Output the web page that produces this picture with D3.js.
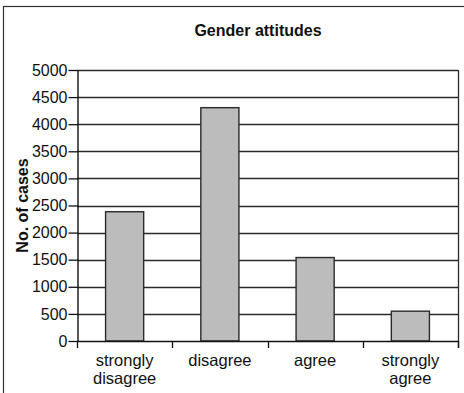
<!DOCTYPE html>
<html>
<head>
<meta charset="utf-8">
<script src="https://cdn.jsdelivr.net/npm/d3@7/dist/d3.min.js"></script>
<style>
  html, body { margin: 0; padding: 0; background: #fff; }
  svg { display: block; font-family: "Liberation Sans", Arial, Helvetica, sans-serif; }
</style>
</head>
<body>
<svg id="chart" width="464" height="393"></svg>
<script>
const categories = [["strongly", "disagree"], ["disagree"], ["agree"], ["strongly", "agree"]];
const values = [2385, 4305, 1540, 550];
const yTicks = [0, 500, 1000, 1500, 2000, 2500, 3000, 3500, 4000, 4500, 5000];
const title = "Gender attitudes";
const yLabel = "No. of cases";

const svg = d3.select("#chart");
const pLeft = 77, pRight = 458, pTop = 70, pBottom = 341;

// outer frame (extends past right/bottom edges)
svg.append("rect").attr("x", 3.5).attr("y", 6.5).attr("width", 480).attr("height", 420)
  .attr("fill", "none").attr("stroke", "#333").attr("stroke-width", 1.2);

const x = d3.scaleBand().domain(d3.range(categories.length)).range([pLeft, pRight]).paddingInner(0).paddingOuter(0);
const y = d3.scaleLinear().domain([0, 5000]).range([pBottom, pTop]);

// gridlines
svg.append("g").selectAll("line").data(yTicks.filter(d => d > 0)).join("line")
  .attr("x1", pLeft).attr("x2", pRight)
  .attr("y1", d => Math.round(y(d)) + 0.5).attr("y2", d => Math.round(y(d)) + 0.5)
  .attr("stroke", "#2a2a2a").attr("stroke-width", 1.3);

// right border of plot
svg.append("line").attr("x1", pRight + 0.5).attr("x2", pRight + 0.5).attr("y1", pTop).attr("y2", pBottom + 7)
  .attr("stroke", "#2a2a2a").attr("stroke-width", 1.3);

// bars
const bw = x.bandwidth() / 2.5;
svg.append("g").selectAll("rect").data(values).join("rect")
  .attr("x", (d, i) => x(i) + (x.bandwidth() - bw) / 2)
  .attr("y", d => y(d))
  .attr("width", bw)
  .attr("height", d => pBottom - y(d))
  .attr("fill", "#bcbcbc").attr("stroke", "#2a2a2a").attr("stroke-width", 1.4);

// y axis
const yAxis = d3.axisLeft(y).tickValues(yTicks).tickFormat(d3.format("d")).tickSize(9).tickPadding(1).tickSizeOuter(0);
const gy = svg.append("g").attr("transform", `translate(${pLeft + 0.5},0)`).call(yAxis);
gy.select(".domain").attr("stroke", "#111").attr("stroke-width", 1.4);
gy.selectAll(".tick line").attr("stroke", "#111").attr("stroke-width", 1.3);
gy.selectAll(".tick text").attr("font-size", 16).attr("fill", "#111").attr("font-family", "Liberation Sans, Arial, sans-serif");

// x axis
const xEdges = d3.range(categories.length + 1).map(i => pLeft + i * x.bandwidth());
svg.append("line").attr("x1", pLeft).attr("x2", pRight).attr("y1", pBottom + 0.5).attr("y2", pBottom + 0.5)
  .attr("stroke", "#111").attr("stroke-width", 1.4);
svg.append("g").selectAll("line").data(xEdges).join("line")
  .attr("x1", d => Math.round(d) + 0.5).attr("x2", d => Math.round(d) + 0.5)
  .attr("y1", pBottom).attr("y2", pBottom + 7)
  .attr("stroke", "#111").attr("stroke-width", 1.3);

const labels = svg.append("g").selectAll("text").data(categories).join("text")
  .attr("x", (d, i) => x(i) + x.bandwidth() / 2)
  .attr("y", 366)
  .attr("text-anchor", "middle").attr("font-size", 16.5).attr("fill", "#111");
labels.selectAll("tspan").data(d => d).join("tspan")
  .attr("x", function () { return d3.select(this.parentNode).attr("x"); })
  .attr("dy", (d, i) => i === 0 ? 0 : 18)
  .text(d => d);

// title
svg.append("text").attr("x", 258).attr("y", 36).attr("text-anchor", "middle")
  .attr("font-size", 16).attr("font-weight", "bold").attr("fill", "#111").text(title);

// y label
svg.append("text").attr("transform", `translate(28,${(pTop + pBottom) / 2}) rotate(-90)`)
  .attr("text-anchor", "middle").attr("font-size", 16).attr("font-weight", "bold").attr("fill", "#111")
  .text(yLabel);
</script>
</body>
</html>
